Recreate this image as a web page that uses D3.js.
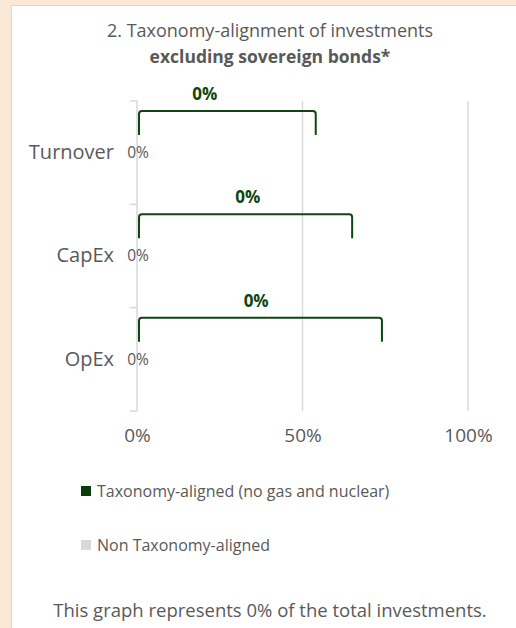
<!DOCTYPE html>
<html>
<head>
<meta charset="utf-8">
<script src="https://cdn.jsdelivr.net/npm/d3@7"></script>
<style>
  body { margin: 0; background: #fbe9d8; }
  svg { display: block; font-family: 'Open Sans', sans-serif; }
</style>
</head>
<body>
<svg id="chart" width="516" height="628"></svg>
<script>
// values
const categories = ['Turnover', 'CapEx', 'OpEx'];
const alignedValues = [0, 0, 0];      // Taxonomy-aligned (no gas and nuclear)
const nonAlignedValues = [0, 0, 0];   // Non Taxonomy-aligned
const xTicks = [0, 50, 100];
// callout leader reach and label spot, in axis percent
const calloutEnd = [54, 65, 74];
const calloutLabelAt = [20.5, 33.5, 36];
const legendLabels = ['Taxonomy-aligned (no gas and nuclear)', 'Non Taxonomy-aligned'];
const legendColors = ['#0b3d0b', '#d9d9d9'];
const titleLines = ['2. Taxonomy-alignment of investments', 'excluding sovereign bonds*'];
const footnote = 'This graph represents 0% of the total investments.';

const svg = d3.select('#chart');
const width = 516;
const textColor = '#595959';
const green = '#0f450f';

svg.append('rect').attr('x', 0).attr('y', 0).attr('width', width).attr('height', 628).attr('fill', '#fbe9d8');
svg.append('rect')
  .attr('x', 11.5).attr('y', 5.5).attr('width', 540).attr('height', 660)
  .attr('fill', '#fff').attr('stroke', '#d9d9d9');

const margin = { top: 101, right: 48, bottom: 217, left: 137 };

const x = d3.scaleLinear().domain([0, 100]).range([margin.left, 468]);
const y = d3.scaleBand().domain(categories).range([margin.top, 411]).paddingInner(0).paddingOuter(0);

// title
svg.append('text')
  .attr('x', 270).attr('y', 37)
  .attr('text-anchor', 'middle').attr('fill', textColor).attr('font-size', 18)
  .text(titleLines[0]);
svg.append('text')
  .attr('x', 270).attr('y', 63)
  .attr('text-anchor', 'middle').attr('fill', textColor).attr('font-size', 17.5)
  .attr('font-weight', 'bold')
  .text(titleLines[1]);

// gridlines
svg.append('g')
  .selectAll('line')
  .data(xTicks.filter((d) => d > 0))
  .enter()
  .append('line')
  .attr('x1', (d) => x(d)).attr('x2', (d) => x(d))
  .attr('y1', margin.top).attr('y2', 411)
  .attr('stroke', '#d9d9d9').attr('stroke-width', 1.5);

// x axis labels
const xAxis = d3.axisBottom(x).tickValues(xTicks).tickFormat((d) => d + '%').tickSize(0);
svg.append('g')
  .attr('transform', 'translate(0, 425)')
  .call(xAxis)
  .call((g) => g.select('.domain').remove())
  .call((g) => g.selectAll('text')
    .attr('font-family', "'Open Sans', sans-serif")
    .attr('font-size', 19).attr('fill', textColor).attr('dy', '0.71em'));

// y axis
const yAxis = d3.axisLeft(y).tickSize(0).tickPadding(23);
svg.append('g')
  .attr('transform', `translate(${margin.left}, 0)`)
  .call(yAxis)
  .call((g) => g.select('.domain').remove())
  .call((g) => g.selectAll('text')
    .attr('font-family', "'Open Sans', sans-serif")
    .attr('font-size', 20).attr('fill', textColor));

// category boundary ticks + axis line
const bounds = categories.map((c) => y(c)).concat([y.range()[1]]);
svg.append('line')
  .attr('x1', margin.left).attr('x2', margin.left)
  .attr('y1', margin.top).attr('y2', 411)
  .attr('stroke', '#d9d9d9').attr('stroke-width', 1.5);
svg.append('g')
  .selectAll('line')
  .data(bounds)
  .enter()
  .append('line')
  .attr('x1', margin.left - 7).attr('x2', margin.left)
  .attr('y1', (d) => d).attr('y2', (d) => d)
  .attr('stroke', '#d9d9d9').attr('stroke-width', 1.5);

// stacked bars (zero width)
const barH = y.bandwidth() * 0.5;
svg.append('g')
  .selectAll('rect')
  .data(categories)
  .enter()
  .append('rect')
  .attr('x', (d, i) => x(0))
  .attr('y', (d) => y(d) + (y.bandwidth() - barH) / 2)
  .attr('width', (d, i) => x(alignedValues[i]) - x(0))
  .attr('height', barH)
  .attr('fill', legendColors[0]);
svg.append('g')
  .selectAll('rect')
  .data(categories)
  .enter()
  .append('rect')
  .attr('x', (d, i) => x(alignedValues[i]))
  .attr('y', (d) => y(d) + (y.bandwidth() - barH) / 2)
  .attr('width', (d, i) => x(alignedValues[i] + nonAlignedValues[i]) - x(alignedValues[i]))
  .attr('height', barH)
  .attr('fill', legendColors[1]);

// small value labels for non-aligned series
svg.append('g')
  .selectAll('text')
  .data(categories)
  .enter()
  .append('text')
  .attr('x', (d, i) => x(alignedValues[i] + nonAlignedValues[i]) + 1)
  .attr('y', (d) => y(d) + y.bandwidth() / 2)
  .attr('dy', '0.35em')
  .attr('text-anchor', 'middle')
  .attr('font-size', 15.5).attr('fill', textColor)
  .text((d, i) => nonAlignedValues[i] + '%');

// callout brackets for aligned series
const r = 3;
const bracket = (i) => {
  const top = y(categories[i]) + 10;
  const bottom = y(categories[i]) + 34;
  const x0 = x(alignedValues[i]) + 2;
  const x1 = x(calloutEnd[i]);
  const p = d3.path();
  p.moveTo(x0, bottom);
  p.lineTo(x0, top + r);
  p.quadraticCurveTo(x0, top, x0 + r, top);
  p.lineTo(x1 - r, top);
  p.quadraticCurveTo(x1, top, x1, top + r);
  p.lineTo(x1, bottom);
  return p.toString();
};
svg.append('g')
  .selectAll('path')
  .data(categories)
  .enter()
  .append('path')
  .attr('d', (d, i) => bracket(i))
  .attr('fill', 'none').attr('stroke', green).attr('stroke-width', 2);
svg.append('g')
  .selectAll('text')
  .data(categories)
  .enter()
  .append('text')
  .attr('x', (d, i) => x(calloutLabelAt[i]))
  .attr('y', (d) => y(d) - 1)
  .attr('text-anchor', 'middle')
  .attr('font-size', 17).attr('font-weight', 'bold').attr('fill', green)
  .text((d, i) => alignedValues[i] + '%');

// legend
const legend = svg.append('g')
  .selectAll('g')
  .data(legendLabels)
  .enter()
  .append('g')
  .attr('transform', (d, i) => `translate(81, ${486 + i * 54})`);
legend.append('rect')
  .attr('width', 10).attr('height', 10)
  .attr('fill', (d, i) => legendColors[i]);
legend.append('text')
  .attr('x', 16).attr('y', 5).attr('dy', '0.35em')
  .attr('font-size', 16).attr('fill', textColor)
  .text((d) => d);

// footnote
svg.append('text')
  .attr('x', 270).attr('y', 617)
  .attr('text-anchor', 'middle').attr('fill', textColor).attr('font-size', 18.5)
  .text(footnote);
</script>
</body>
</html>
